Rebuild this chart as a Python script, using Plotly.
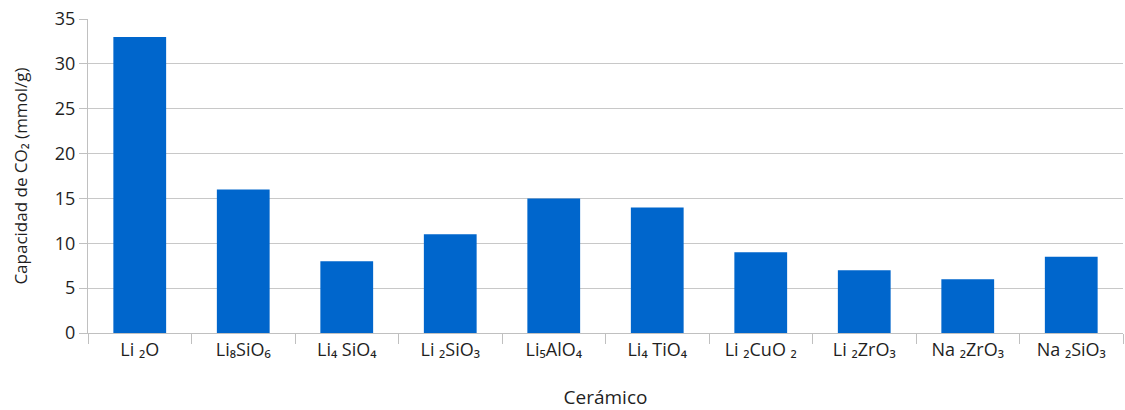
import plotly.graph_objects as go

categories = ["Li ₂O", "Li₈SiO₆", "Li₄ SiO₄", "Li ₂SiO₃", "Li₅AlO₄",
              "Li₄ TiO₄", "Li ₂CuO ₂", "Li ₂ZrO₃", "Na ₂ZrO₃", "Na ₂SiO₃"]
capacity = [33, 16, 8, 11, 15, 14, 9, 7, 6, 8.5]

fig = go.Figure(go.Bar(x=categories, y=capacity, marker_color="#0066CC",
                       marker_line_width=0))

font = "Open Sans, Lato, DejaVu Sans, sans-serif"
fig.update_layout(
    width=1125, height=410,
    margin=dict(l=88, r=2, t=19, b=77, autoexpand=False),
    plot_bgcolor="white", paper_bgcolor="white",
    bargap=0.49, showlegend=False,
    font=dict(family=font, size=16, color="#1f1f1f"),
)
fig.update_xaxes(
    type="category", tickson="boundaries", ticks="outside", ticklen=10,
    tickcolor="#c0c0c0", showline=True, linecolor="#c0c0c0", linewidth=1,
    showgrid=False, tickfont=dict(size=18), automargin=False,
    title=dict(text="Cerámico", font=dict(size=19), standoff=34),
)
fig.update_yaxes(
    range=[0, 35], dtick=5, ticks="outside", ticklen=8, tickcolor="#c0c0c0",
    showline=True, linecolor="#c0c0c0", gridcolor="#c8c8c8", gridwidth=1,
    zeroline=False, tickfont=dict(size=18), automargin=False,
    title=dict(text="Capacidad de CO₂ (mmol/g)", font=dict(size=17), standoff=22),
)
fig.write_html("out.html", config={"displayModeBar": False},
               post_script="document.body.style.margin='0';document.body.style.padding='0';")
